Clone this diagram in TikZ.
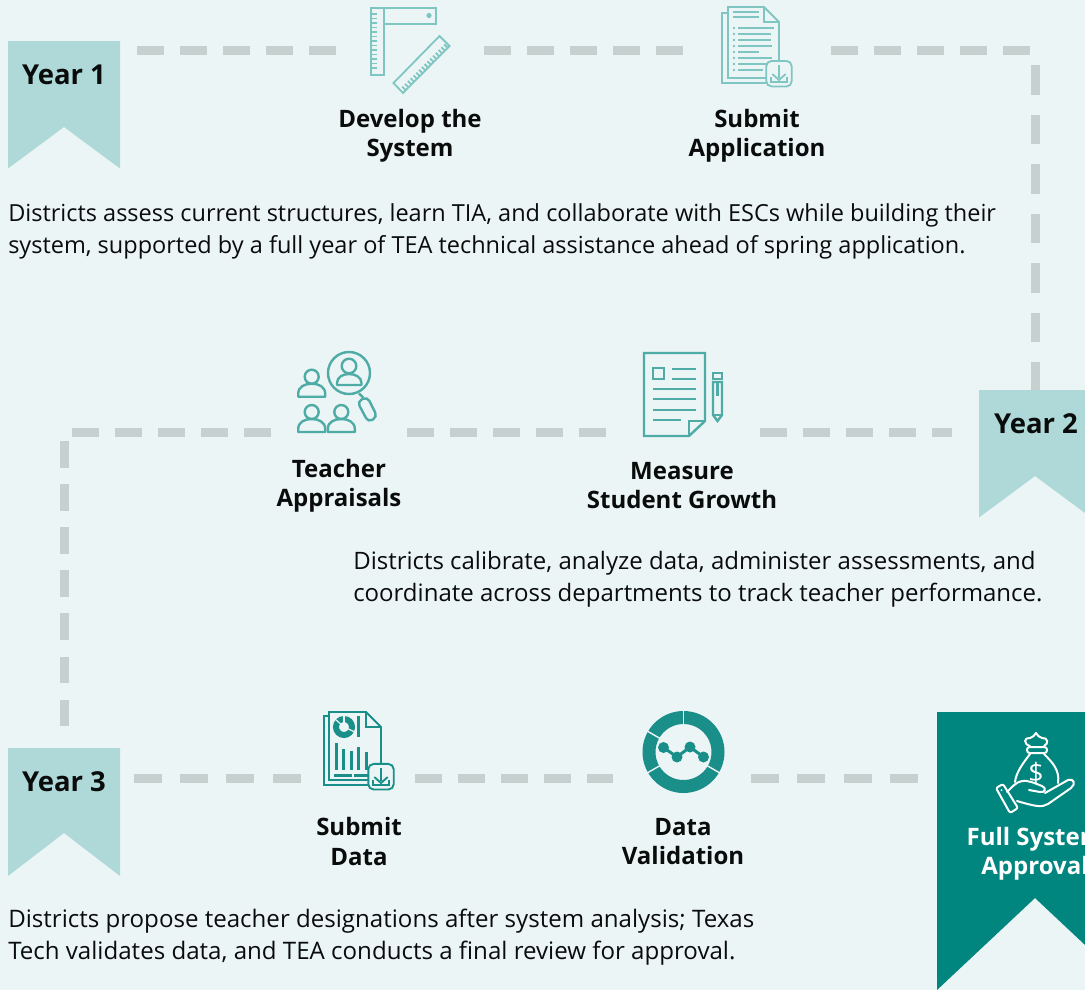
\documentclass[tikz,border=0pt]{standalone}
\usepackage{fontspec}
\setmainfont{Open Sans}
\usetikzlibrary{arrows,backgrounds,calc}
\definecolor{pageBg}{HTML}{ECF5F6}
\definecolor{ribbonLight}{HTML}{AFD8D8}
\definecolor{ribbonDark}{HTML}{00857F}
\definecolor{dashGray}{HTML}{C6D0CE}
\definecolor{iconPale}{HTML}{7FC6C2}
\definecolor{iconMid}{HTML}{4EABA6}
\definecolor{iconDeep}{HTML}{1A8F89}
\definecolor{inkBlack}{HTML}{0A0C0C}
\newcommand{\pxUnit}{0.75pt}
\newcommand{\bodySize}{\fontsize{18}{24}\selectfont}
\newcommand{\labelSize}{\fontsize{18}{22}\selectfont\bfseries}
\newcommand{\yearSize}{\fontsize{20.6}{24}\selectfont\bfseries}
\newcommand{\personIcon}[3]{
  \draw[#3] (#1,#2) circle (7);
  \draw[#3,line join=round] (#1-13.5,#2+20) -- (#1-13.5,#2+17) .. controls (#1-13.5,#2+10) and (#1-7,#2+7) .. (#1,#2+7)
    .. controls (#1+7,#2+7) and (#1+13.5,#2+10) .. (#1+13.5,#2+17) -- (#1+13.5,#2+20) -- cycle;
}
\newcommand{\downloadBadge}[3]{
  \draw[#3,fill=pageBg,rounded corners=4] (#1-12.7,#2-12.8) rectangle (#1+12.7,#2+12.8);
  \draw[#3] (#1,#2-8.7) -- (#1,#2+4.5);
  \draw[#3] (#1-6.7,#2+0.3) -- (#1,#2+6.3) -- (#1+6.7,#2+0.3);
  \draw[#3] (#1-8.3,#2+3.6) -- (#1-8.3,#2+8) -- (#1+8.3,#2+8) -- (#1+8.3,#2+3.6);
}
\tikzset{
  ribbon/.style={fill=ribbonLight,draw=none},
  dashline/.style={draw=dashGray,line width=9*\pxUnit,dash pattern=on 26.5*\pxUnit off 16.6*\pxUnit},
  wideDash/.style={dashline,dash pattern=on 28*\pxUnit off 18.4*\pxUnit},
  tallDash/.style={dashline,dash pattern=on 29.5*\pxUnit off 20*\pxUnit},
  iconbox/.style n args={2}{minimum width=#1*\pxUnit,minimum height=#2*\pxUnit,inner sep=0pt,outer sep=0pt},
  stepLabel/.style={text=inkBlack,align=center,font=\labelSize,inner sep=0pt},
  yearLabel/.style={text=inkBlack,font=\yearSize,inner sep=0pt},
  bodyText/.style={text=inkBlack,align=left,font=\bodySize,anchor=north west,inner sep=0pt},
  iconLine/.style={draw=iconPale,line width=1.8*\pxUnit},
  midLine/.style={draw=iconMid,line width=2.4*\pxUnit},
  deepLine/.style={draw=iconDeep,line width=1.9*\pxUnit},
  whiteLine/.style={draw=white,line width=2*\pxUnit,line join=round,line cap=round}
}
\begin{document}
\begin{tikzpicture}[x=\pxUnit,y=-\pxUnit]
\useasboundingbox (0,0) rectangle (1085,990);
\clip (0,0) rectangle (1085,990);
\fill[pageBg] (0,0) rectangle (1085,990);

% anchors for the dashed route
\node[iconbox={112}{127}] (yearOne) at (64,104.5) {};
\node[iconbox={148}{80}] (develop) at (410,50.5) {};
\node[iconbox={147}{80}] (submit) at (757.5,50.5) {};
\node[iconbox={112}{127}] (yearTwo) at (1035,453.5) {};
\node[iconbox={154}{80}] (measure) at (683,432.5) {};
\node[iconbox={136}{80}] (appraisal) at (339,432.5) {};
\node[iconbox={112}{128}] (yearThree) at (64,812) {};
\node[iconbox={114}{80}] (submitData) at (358,778.5) {};
\node[iconbox={138}{80}] (validation) at (682,778.5) {};
\node[iconbox={196}{278}] (fullSystem) at (1035,851) {};
\coordinate (topCorner) at (1030,50.5);
\coordinate (rightStart) at (1035,65);
\coordinate (leftCorner) at (72,432.5);
\coordinate (leftStart) at (64,441);

% dashed route
\draw[dashline,shorten <=17*\pxUnit] (yearOne.east |- develop.west) -- (develop.west);
\draw[dashline] (develop.east) -- (submit.west);
\draw[dashline] (submit.east) -- (topCorner);
\draw[tallDash] (rightStart) -- (yearTwo.north);
\draw[dashline] (measure.east) -- ([xshift=-20]yearTwo.west |- measure.east);
\draw[dashline] (appraisal.east) -- (measure.west);
\draw[dashline] (leftCorner) -- (appraisal.west);
\draw[dashline,shorten >=20*\pxUnit] (leftStart) -- (yearThree.north);
\draw[wideDash,shorten <=13.5*\pxUnit] (yearThree.east |- submitData.west) -- (submitData.west);
\draw[dashline] (submitData.east) -- (validation.west);
\draw[wideDash,shorten >=19*\pxUnit] (validation.east) -- (fullSystem.west |- validation.east);

% ribbons
\fill[ribbon] (8,41) -- (120,41) -- (120,168.5) -- (64,127) -- (8,168.5) -- cycle;
\fill[ribbon] (979,390) -- (1091,390) -- (1091,517.5) -- (1035,476) -- (979,517.5) -- cycle;
\fill[ribbon] (8,748) -- (120,748) -- (120,876) -- (64,833) -- (8,876) -- cycle;
\fill[ribbonDark] (937,712) -- (1133,712) -- (1133,990) -- (1035,898) -- (937,990) -- cycle;
\node[yearLabel] (yearOneText) at (64,75) {Year 1};
\node[yearLabel] (yearTwoText) at (1036,424) {Year 2};
\node[yearLabel] (yearThreeText) at (64,782) {Year 3};
\node[stepLabel,text=white] (fullText) at (1035,853.5) {Full System\\Approval};

% step labels
\node[stepLabel] (developText) at (410,135.5) {Develop the\\System};
\node[stepLabel] (submitText) at (757,135.5) {Submit\\Application};
\node[stepLabel] (appraisalText) at (339,486) {Teacher\\Appraisals};
\node[stepLabel] (measureText) at (682,485.5) {Measure\\Student Growth};
\node[stepLabel] (submitDataText) at (359,841.5) {Submit\\Data};
\node[stepLabel] (validationText) at (683,841.5) {Data\\Validation};

% body text
\node[bodyText,font=\fontsize{17.63}{24}\selectfont] (bodyOne) at (8,203) {Districts assess current structures, learn TIA, and collaborate with ESCs while building their\\system, supported by a full year of TEA technical assistance ahead of spring application.};
\node[bodyText] (bodyTwo) at (353,551) {Districts calibrate, analyze data, administer assessments, and\\coordinate across departments to track teacher performance.};
\node[bodyText,font=\fontsize{18.07}{24}\selectfont] (bodyThree) at (8,909) {Districts propose teacher designations after system analysis; Texas\\Tech validates data, and TEA conducts a final review for approval.};

% square and ruler
\draw[iconLine] (371,8) rectangle (384,75);
\draw[iconLine] (384,8) rectangle (436,24);
\fill[iconPale] (429,15.5) circle (2.6);
\foreach \tickY in {14,18.5,...,70} {\draw[iconLine] (372,\tickY) -- (377,\tickY);}
\draw[iconLine] (393.5,83) -- (439.5,36) -- (449.5,46) -- (403,93) -- cycle;
\foreach \tickT in {0.06,0.12,...,0.97} {\draw[iconLine] ($(403,93)!\tickT!(449.5,46)$) -- ++(-3.5,-3.5);}

% application sheets
\draw[iconLine] (728,13) -- (722,13) -- (722,83) -- (766,83);
\draw[iconLine] (766,78) -- (728,78) -- (728,7) -- (764,7) -- (779,22) -- (779,60);
\draw[iconLine] (764,7) -- (764,22) -- (779,22);
\draw[iconLine] (733,12) -- (759,12);
\draw[iconLine] (733,17) -- (759,17);
\foreach \rowY/\rowEnd in {28/774,34/771,40/771,46/772,52/759,58/772,64/770,70/763} {
  \fill[iconPale] (734,\rowY) circle (1.3);
  \draw[iconLine] (738,\rowY) -- (\rowEnd,\rowY);
}
\downloadBadge{779}{73.7}{iconLine}

% people under a magnifier
\personIcon{311.7}{376.7}{midLine}
\personIcon{311.7}{412}{midLine}
\personIcon{341.3}{412}{midLine}
\draw[midLine] (349,373) circle (21);
\draw[midLine] (349,366) circle (7.3);
\draw[midLine,line join=round] (337,385) -- (337,383) .. controls (337,377) and (343,374) .. (349,374)
  .. controls (355,374) and (361.5,377) .. (361.5,383) -- (361.5,385) -- cycle;
\draw[midLine] (359,393.3) -- (363.3,397.7);
\draw[midLine,rounded corners=3.5] (357.3,401.7) -- (367.3,396.7) -- (377.3,416.7) -- (368.3,422.3) -- cycle;

% measure sheet and pencil
\draw[midLine] (644,353) -- (705,353) -- (705,421) -- (689,436) -- (644,436) -- cycle;
\draw[midLine] (689,436) -- (689,421) -- (705,421);
\draw[midLine] (653,368) rectangle (664,379);
\draw[midLine] (672,369) -- (696,369);
\draw[midLine] (672,379) -- (696,379);
\draw[midLine] (653,389) -- (696,389);
\draw[midLine] (653,399) -- (696,399);
\draw[midLine] (653,410) -- (696,410);
\draw[midLine] (653,420) -- (681,420);
\draw[midLine] (713,373) rectangle (722,379);
\draw[midLine] (713,382) -- (722,382) -- (722,415) -- (717.5,421) -- (713,415) -- cycle;
\draw[midLine] (713,415) -- (722,415);
\draw[midLine] (717.5,382) -- (717.5,396);

% data sheet
\draw[deepLine] (329,716) -- (324,716) -- (324,785) -- (368,785);
\draw[deepLine] (368,780) -- (329,780) -- (329,712) -- (366,712) -- (381,727) -- (381,765);
\draw[deepLine] (366,712) -- (366,727) -- (381,727);
\draw[iconDeep,line width=6*\pxUnit] (344,727) circle (8);
\draw[pageBg,line width=1.2*\pxUnit] (344,727) -- ++(0,-12);
\draw[pageBg,line width=1.2*\pxUnit] (344,727) -- ++(11,5);
\draw[pageBg,line width=1.2*\pxUnit] (344,727) -- ++(-9,-8);
\fill[iconDeep] (357,716) rectangle (360,737);
\fill[iconDeep] (335,743) rectangle (338,770);
\fill[iconDeep] (342,749) rectangle (345,770);
\fill[iconDeep] (350,751) rectangle (353,770);
\fill[iconDeep] (357,747) rectangle (360,770);
\fill[iconDeep] (365,752) rectangle (368,770);
\fill[iconDeep] (334,774) rectangle (352,777);
\fill[iconDeep] (354,774) rectangle (368,777);
\downloadBadge{381}{776.7}{deepLine}

% validation ring
\draw[iconDeep,line width=13*\pxUnit] (683.5,752) circle (34.5);
\draw[pageBg,line width=1.4*\pxUnit] (683.5,752) ++(90:-25) -- ++(90:-20);
\draw[pageBg,line width=1.4*\pxUnit] (683.5,752) ++(-150:25) -- ++(-150:20);
\draw[pageBg,line width=1.4*\pxUnit] (683.5,752) ++(150:25) -- ++(150:20);
\draw[pageBg,line width=1.4*\pxUnit] (683.5,752) ++(30:25) -- ++(30:20);
\draw[iconDeep,line width=3*\pxUnit] (663.5,747.5) -- (677,757) -- (690,747) -- (703.5,757);
\foreach \dotX/\dotY in {663.5/747.5,677/757,690/747,703.5/757} {\fill[iconDeep] (\dotX,\dotY) circle (5.5);}

% money bag in a hand
\draw[whiteLine,rounded corners=2] (1027,747) rectangle (1047,753);
\draw[whiteLine] (1030,746) .. controls (1023,744) and (1024,737) .. (1030,738) .. controls (1033,738) and (1034,735) .. (1036,733)
  .. controls (1038,735) and (1039,738) .. (1042,738) .. controls (1048,737) and (1049,744) .. (1044,746);
\draw[whiteLine] (1030,754) .. controls (1024,762) and (1016,772) .. (1015,782);
\draw[whiteLine] (1044,754) .. controls (1052,762) and (1060,770) .. (1058,783);
\draw[whiteLine,fill=ribbonDark] (1007,792) .. controls (1012,787) and (1016,782) .. (1022,781) .. controls (1028,780) and (1034,783) .. (1042,786)
  .. controls (1047,788) and (1045,793) .. (1040,792) -- (1029,790);
\draw[whiteLine] (1045,793) -- (1068,780) .. controls (1074,778) and (1076,784) .. (1071,788) -- (1048,804)
  .. controls (1042,808) and (1034,806) .. (1017,801);
\draw[whiteLine,rounded corners=1.5] (996,788) -- (1003,784) -- (1018,808) -- (1010,813) -- cycle;
\fill[white] (1001.5,790) circle (1);
\node[text=white,font=\fontsize{20}{20}\selectfont,inner sep=0pt] (bagDollar) at (1036,773) {\$};
\end{tikzpicture}
\end{document}
